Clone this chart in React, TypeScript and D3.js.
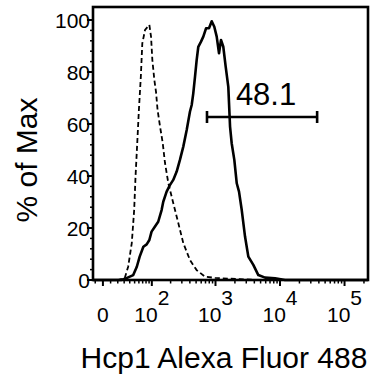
import React from "react";
import * as d3 from "d3";

// ---- data ----
const X_DOMAIN = [-13, 231000];
const Y_DOMAIN = [0, 105];
const LOGICLE_W = 36;

const CONTROL_X = [-13, 20, 31, 37, 44, 49, 52, 56, 60, 65, 69, 77, 91, 97, 102, 110, 117, 124, 136, 150, 163, 184, 220, 264, 316, 401, 510, 688, 982, 2400, 4900, 231000];
const CONTROL_Y = [0, 0, 0.8, 5.1, 14.2, 26.9, 39.7, 52.7, 65.4, 78.2, 91, 96.2, 98.1, 93.6, 84.6, 76.9, 72.4, 65.4, 59, 52.7, 45, 37.3, 29.6, 21.9, 14.2, 7.7, 3.8, 1.3, 0.8, 0.3, 0, 0];

const SAMPLE_X = [-13, 25, 34, 47, 55, 62, 72, 82, 91, 99, 112, 127, 144, 153, 173, 195, 220, 249, 280, 316, 357, 401, 427, 452, 481, 510, 541, 596, 647, 713, 793, 874, 958, 1044, 1134, 1217, 1321, 1440, 1580, 1681, 1782, 1958, 2135, 2315, 2552, 2869, 3229, 3859, 4612, 5868, 8384, 11970, 231000];
const SAMPLE_Y = [0, 0, 0.7, 1.9, 5.1, 9.0, 12.8, 13.7, 15.4, 18.6, 20.5, 22.4, 26.9, 30.1, 34.0, 36.5, 38.5, 41.7, 46.2, 51.3, 57.7, 64.7, 67.3, 71.8, 78.2, 84.6, 89.7, 91.7, 93.6, 96.8, 96.8, 99.5, 97.4, 93.6, 87.2, 92.3, 89.7, 82.0, 74.3, 59.0, 52.6, 46.2, 37.2, 34.0, 26.9, 16.7, 9.0, 5.8, 1.9, 0.9, 0.7, 0, 0];

const GATE_RANGE = [738, 37600];
const GATE_LEVEL = 62.7;
const GATE_LABEL = "48.1";

const Y_TICKS = [0, 20, 40, 60, 80, 100];
const Y_MINOR = d3.range(0, 101, 4);
const X_MAJOR = [0, 100, 1000, 10000, 100000];
const X_MAJOR_EXP = ["", "2", "3", "4", "5"];
const X_MINOR = [-10, 10, 20, 30, 40, 50, 60, 70, 80, 90, 200, 300, 400, 500, 600, 700, 800, 900, 2000, 3000, 4000, 5000, 6000, 7000, 8000, 9000, 20000, 30000, 40000, 50000, 60000, 70000, 80000, 90000, 200000];

const X_TITLE = "Hcp1 Alexa Fluor 488";
const Y_TITLE = "% of Max";

// ---- layout ----
const W = 388, H = 376;
const L = 93, R = 368, T = 7, B = 280;
const FONT = "'Liberation Sans', Arial, Helvetica, sans-serif";

const tr = (v: number) => Math.asinh(v / LOGICLE_W);
const xLin = d3.scaleLinear().domain([tr(X_DOMAIN[0]), tr(X_DOMAIN[1])]).range([L, R]);
const x = (v: number) => xLin(tr(v));
const y = d3.scaleLinear().domain(Y_DOMAIN).range([B, T]);

const control = CONTROL_X.map((v, i) => [v, CONTROL_Y[i]] as [number, number]);
const sample = SAMPLE_X.map((v, i) => [v, SAMPLE_Y[i]] as [number, number]);
const line = d3.line<[number, number]>().x((d) => x(d[0])).y((d) => y(d[1]));

export default function App() {
  const gy = y(GATE_LEVEL);
  return (
    <svg width={W} height={H} style={{ position: "absolute", left: 0, top: 0, background: "#fff" }} fontFamily={FONT}>
      <rect x={0} y={0} width={W} height={H} fill="#fff" />
      {/* curves */}
      <path d={line(control) || ""} fill="none" stroke="#000" strokeWidth={1.8} strokeDasharray="5,3" />
      <path d={line(sample) || ""} fill="none" stroke="#000" strokeWidth={2.6} strokeLinejoin="round" />
      {/* frame */}
      <rect x={L} y={T} width={R - L} height={B - T} fill="none" stroke="#000" strokeWidth={2.6} />
      {/* y ticks */}
      {Y_MINOR.map((t) => (
        <line key={"ym" + t} x1={L - 3} x2={L} y1={y(t)} y2={y(t)} stroke="#000" strokeWidth={1.5} />
      ))}
      {Y_TICKS.map((t) => (
        <g key={"y" + t}>
          <line x1={L - 6} x2={L} y1={y(t)} y2={y(t)} stroke="#000" strokeWidth={2} />
          <text x={L - 3} y={y(t) + 7.5} fontSize={21} textAnchor="end" fill="#000">{t}</text>
        </g>
      ))}
      {/* x ticks */}
      {X_MINOR.map((t) => (
        <line key={"xm" + t} x1={x(t)} x2={x(t)} y1={B} y2={B + 3.5} stroke="#000" strokeWidth={1.5} />
      ))}
      {X_MAJOR.map((t, i) => (
        <g key={"x" + t}>
          <line x1={x(t)} x2={x(t)} y1={B} y2={B + 6} stroke="#000" strokeWidth={2} />
          <text x={x(t)} y={322} fontSize={21} textAnchor="middle" fill="#000">
            {t === 0 ? "0" : "10"}
            {X_MAJOR_EXP[i] ? <tspan dy={-17}>{X_MAJOR_EXP[i]}</tspan> : null}
          </text>
        </g>
      ))}
      {/* gate */}
      <line x1={x(GATE_RANGE[0])} x2={x(GATE_RANGE[1])} y1={gy} y2={gy} stroke="#000" strokeWidth={2.6} />
      <line x1={x(GATE_RANGE[0])} x2={x(GATE_RANGE[0])} y1={gy - 6} y2={gy + 6} stroke="#000" strokeWidth={2.6} />
      <line x1={x(GATE_RANGE[1])} x2={x(GATE_RANGE[1])} y1={gy - 6} y2={gy + 6} stroke="#000" strokeWidth={2.6} />
      <text x={(x(GATE_RANGE[0]) + x(GATE_RANGE[1])) / 2 + 4} y={gy - 12} fontSize={31} textAnchor="middle" fill="#000">{GATE_LABEL}</text>
      {/* titles */}
      <text x={224} y={368} fontSize={30} textAnchor="middle" fill="#000">{X_TITLE}</text>
      <text transform={`translate(37,160) rotate(-90)`} fontSize={30} textAnchor="middle" fill="#000">{Y_TITLE}</text>
    </svg>
  );
}
